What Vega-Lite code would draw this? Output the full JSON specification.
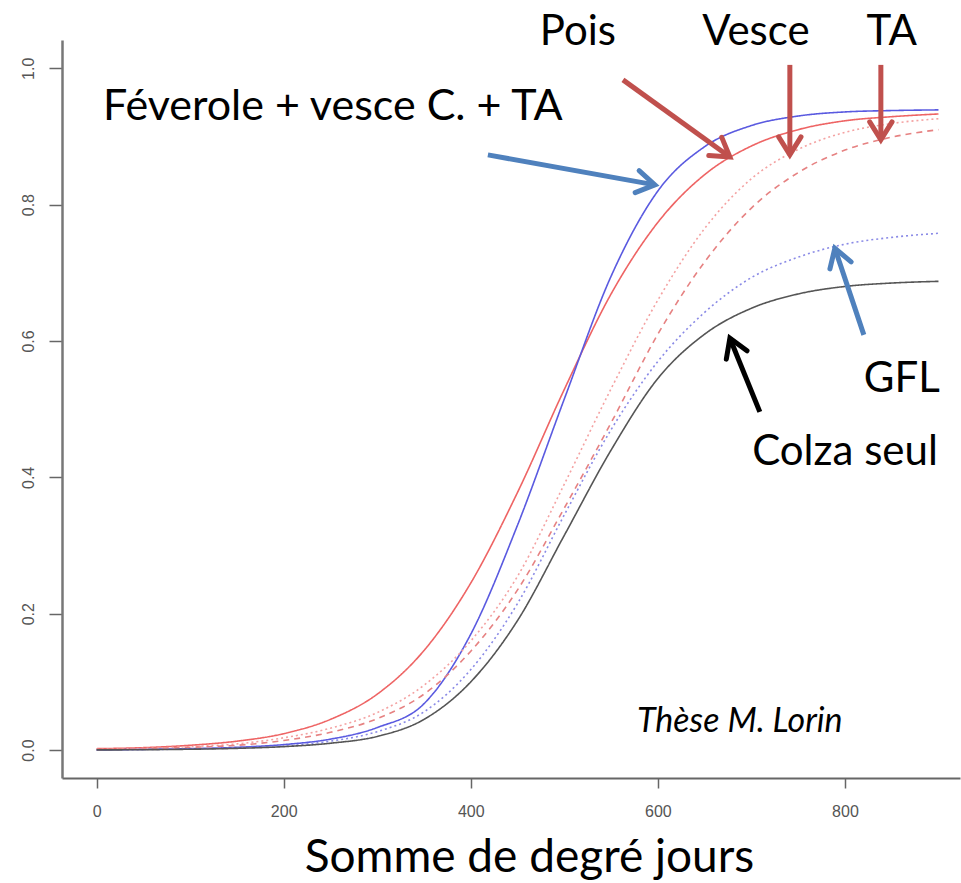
{
  "$schema": "https://vega.github.io/schema/vega-lite/v6.json",
  "width": 898,
  "height": 738,
  "autosize": {"type": "none"},
  "padding": {"left": 62, "top": 40, "right": 1, "bottom": 105},
  "background": "white",
  "config": {"view": {"stroke": null}, "axis": {"grid": false}},
  "datasets": {
    "curves": [
      {"serie": "Pois", "x": 0, "y": 0.002}, {"serie": "Pois", "x": 50, "y": 0.0035}, {"serie": "Pois", "x": 100, "y": 0.007}, {"serie": "Pois", "x": 150, "y": 0.013}, {"serie": "Pois", "x": 200, "y": 0.024}, {"serie": "Pois", "x": 250, "y": 0.045}, {"serie": "Pois", "x": 300, "y": 0.082}, {"serie": "Pois", "x": 350, "y": 0.146}, {"serie": "Pois", "x": 400, "y": 0.245}, {"serie": "Pois", "x": 450, "y": 0.378}, {"serie": "Pois", "x": 500, "y": 0.529}, {"serie": "Pois", "x": 550, "y": 0.669}, {"serie": "Pois", "x": 600, "y": 0.774}, {"serie": "Pois", "x": 650, "y": 0.844}, {"serie": "Pois", "x": 700, "y": 0.886}, {"serie": "Pois", "x": 750, "y": 0.910}, {"serie": "Pois", "x": 800, "y": 0.923}, {"serie": "Pois", "x": 850, "y": 0.929}, {"serie": "Pois", "x": 900, "y": 0.933},
      {"serie": "Féverole + vesce C. + TA", "x": 0, "y": 0.0}, {"serie": "Féverole + vesce C. + TA", "x": 50, "y": 0.001}, {"serie": "Féverole + vesce C. + TA", "x": 100, "y": 0.002}, {"serie": "Féverole + vesce C. + TA", "x": 150, "y": 0.004}, {"serie": "Féverole + vesce C. + TA", "x": 200, "y": 0.008}, {"serie": "Féverole + vesce C. + TA", "x": 250, "y": 0.016}, {"serie": "Féverole + vesce C. + TA", "x": 300, "y": 0.033}, {"serie": "Féverole + vesce C. + TA", "x": 350, "y": 0.068}, {"serie": "Féverole + vesce C. + TA", "x": 400, "y": 0.17}, {"serie": "Féverole + vesce C. + TA", "x": 450, "y": 0.33}, {"serie": "Féverole + vesce C. + TA", "x": 500, "y": 0.515}, {"serie": "Féverole + vesce C. + TA", "x": 550, "y": 0.695}, {"serie": "Féverole + vesce C. + TA", "x": 600, "y": 0.82}, {"serie": "Féverole + vesce C. + TA", "x": 650, "y": 0.885}, {"serie": "Féverole + vesce C. + TA", "x": 700, "y": 0.916}, {"serie": "Féverole + vesce C. + TA", "x": 750, "y": 0.930}, {"serie": "Féverole + vesce C. + TA", "x": 800, "y": 0.936}, {"serie": "Féverole + vesce C. + TA", "x": 850, "y": 0.938}, {"serie": "Féverole + vesce C. + TA", "x": 900, "y": 0.939},
      {"serie": "Vesce", "x": 0, "y": 0.001}, {"serie": "Vesce", "x": 50, "y": 0.0025}, {"serie": "Vesce", "x": 100, "y": 0.005}, {"serie": "Vesce", "x": 150, "y": 0.009}, {"serie": "Vesce", "x": 200, "y": 0.018}, {"serie": "Vesce", "x": 250, "y": 0.032}, {"serie": "Vesce", "x": 300, "y": 0.055}, {"serie": "Vesce", "x": 350, "y": 0.095}, {"serie": "Vesce", "x": 400, "y": 0.16}, {"serie": "Vesce", "x": 450, "y": 0.255}, {"serie": "Vesce", "x": 500, "y": 0.39}, {"serie": "Vesce", "x": 550, "y": 0.53}, {"serie": "Vesce", "x": 600, "y": 0.66}, {"serie": "Vesce", "x": 650, "y": 0.765}, {"serie": "Vesce", "x": 700, "y": 0.838}, {"serie": "Vesce", "x": 750, "y": 0.881}, {"serie": "Vesce", "x": 800, "y": 0.906}, {"serie": "Vesce", "x": 850, "y": 0.919}, {"serie": "Vesce", "x": 900, "y": 0.926},
      {"serie": "TA", "x": 0, "y": 0.0008}, {"serie": "TA", "x": 50, "y": 0.002}, {"serie": "TA", "x": 100, "y": 0.004}, {"serie": "TA", "x": 150, "y": 0.007}, {"serie": "TA", "x": 200, "y": 0.014}, {"serie": "TA", "x": 250, "y": 0.026}, {"serie": "TA", "x": 300, "y": 0.046}, {"serie": "TA", "x": 350, "y": 0.082}, {"serie": "TA", "x": 400, "y": 0.145}, {"serie": "TA", "x": 450, "y": 0.235}, {"serie": "TA", "x": 500, "y": 0.355}, {"serie": "TA", "x": 550, "y": 0.48}, {"serie": "TA", "x": 600, "y": 0.61}, {"serie": "TA", "x": 650, "y": 0.716}, {"serie": "TA", "x": 700, "y": 0.795}, {"serie": "TA", "x": 750, "y": 0.847}, {"serie": "TA", "x": 800, "y": 0.880}, {"serie": "TA", "x": 850, "y": 0.899}, {"serie": "TA", "x": 900, "y": 0.910},
      {"serie": "GFL", "x": 0, "y": 0.0003}, {"serie": "GFL", "x": 50, "y": 0.0007}, {"serie": "GFL", "x": 100, "y": 0.0015}, {"serie": "GFL", "x": 150, "y": 0.003}, {"serie": "GFL", "x": 200, "y": 0.006}, {"serie": "GFL", "x": 250, "y": 0.013}, {"serie": "GFL", "x": 300, "y": 0.027}, {"serie": "GFL", "x": 350, "y": 0.056}, {"serie": "GFL", "x": 400, "y": 0.118}, {"serie": "GFL", "x": 450, "y": 0.215}, {"serie": "GFL", "x": 500, "y": 0.345}, {"serie": "GFL", "x": 550, "y": 0.47}, {"serie": "GFL", "x": 600, "y": 0.57}, {"serie": "GFL", "x": 650, "y": 0.642}, {"serie": "GFL", "x": 700, "y": 0.693}, {"serie": "GFL", "x": 750, "y": 0.723}, {"serie": "GFL", "x": 800, "y": 0.742}, {"serie": "GFL", "x": 850, "y": 0.752}, {"serie": "GFL", "x": 900, "y": 0.758},
      {"serie": "Colza seul", "x": 0, "y": 0.0002}, {"serie": "Colza seul", "x": 50, "y": 0.0005}, {"serie": "Colza seul", "x": 100, "y": 0.0012}, {"serie": "Colza seul", "x": 150, "y": 0.0025}, {"serie": "Colza seul", "x": 200, "y": 0.005}, {"serie": "Colza seul", "x": 250, "y": 0.010}, {"serie": "Colza seul", "x": 300, "y": 0.020}, {"serie": "Colza seul", "x": 350, "y": 0.045}, {"serie": "Colza seul", "x": 400, "y": 0.10}, {"serie": "Colza seul", "x": 450, "y": 0.19}, {"serie": "Colza seul", "x": 500, "y": 0.315}, {"serie": "Colza seul", "x": 550, "y": 0.44}, {"serie": "Colza seul", "x": 600, "y": 0.545}, {"serie": "Colza seul", "x": 650, "y": 0.61}, {"serie": "Colza seul", "x": 700, "y": 0.648}, {"serie": "Colza seul", "x": 750, "y": 0.669}, {"serie": "Colza seul", "x": 800, "y": 0.680}, {"serie": "Colza seul", "x": 850, "y": 0.685}, {"serie": "Colza seul", "x": 900, "y": 0.6875}
    ],
    "arrows": [
      {"g": "rouge", "x": 562.7, "y": 0.983, "x2": 677.0, "y2": 0.870, "angle": 125.7},
      {"g": "rouge", "x": 741.1, "y": 1.005, "x2": 741.1, "y2": 0.873, "angle": 180},
      {"g": "rouge", "x": 838.4, "y": 1.005, "x2": 838.4, "y2": 0.895, "angle": 180},
      {"g": "bleu", "x": 418.3, "y": 0.873, "x2": 596.8, "y2": 0.829, "angle": 100.2},
      {"g": "bleu", "x": 820.2, "y": 0.609, "x2": 789.2, "y2": 0.736, "angle": -18.4},
      {"g": "noir", "x": 709.0, "y": 0.496, "x2": 677.0, "y2": 0.604, "angle": -22.1}
    ],
    "labels": [
      {"kind": "top", "label": "Pois", "x": 514.5, "y": 1.034},
      {"kind": "top", "label": "Vesce", "x": 704.8, "y": 1.034},
      {"kind": "top", "label": "TA", "x": 850.0, "y": 1.034},
      {"kind": "left", "label": "Féverole + vesce C. + TA", "x": 6.8, "y": 0.924},
      {"kind": "right", "label": "GFL", "x": 901.4, "y": 0.525},
      {"kind": "right", "label": "Colza seul", "x": 899.3, "y": 0.418},
      {"kind": "source", "label": "Thèse M. Lorin", "x": 687.6, "y": 0.0264}
    ]
  },
  "resolve": {"scale": {"color": "independent", "strokeDash": "independent"}},
  "layer": [
    {
      "data": {"name": "curves"},
      "mark": {"type": "line", "interpolate": "monotone", "strokeWidth": 1.6},
      "encoding": {
        "x": {
          "field": "x", "type": "quantitative",
          "scale": {"domain": [-37, 923], "nice": false, "zero": false},
          "axis": {
            "values": [0, 200, 400, 600, 800],
            "title": "Somme de degré jours",
            "titleFont": "Lato", "titleFontSize": 46, "titleFontWeight": "normal", "titleColor": "#000000",
            "titleX": 467, "titleY": 93, "titleAlign": "center", "titleBaseline": "alphabetic",
            "domainColor": "#666666", "domainWidth": 2,
            "tickColor": "#666666", "tickWidth": 1.5, "tickSize": 10,
            "labelFont": "Liberation Sans", "labelFontSize": 16, "labelColor": "#555555",
            "labelBaseline": "alphabetic", "labelPadding": 28
          }
        },
        "y": {
          "field": "y", "type": "quantitative",
          "scale": {"domain": [-0.041, 1.0415], "nice": false, "zero": false},
          "axis": {
            "values": [0, 0.2, 0.4, 0.6, 0.8, 1.0],
            "format": ".1f",
            "title": null,
            "domainColor": "#777777", "domainWidth": 2.5,
            "tickColor": "#666666", "tickWidth": 1.5, "tickSize": 13,
            "labelFont": "Liberation Sans", "labelFontSize": 16, "labelColor": "#555555",
            "labelAngle": -90, "labelAlign": "center", "labelBaseline": "alphabetic", "labelPadding": 16
          }
        },
        "color": {
          "field": "serie", "type": "nominal", "legend": null,
          "scale": {
            "domain": ["Féverole + vesce C. + TA", "Pois", "Vesce", "TA", "GFL", "Colza seul"],
            "range": ["#5a5ae0", "#ee6464", "#f4a2a2", "#e68282", "#8a8ae6", "#555555"]
          }
        },
        "strokeDash": {
          "field": "serie", "type": "nominal", "legend": null,
          "scale": {
            "domain": ["Féverole + vesce C. + TA", "Pois", "Vesce", "TA", "GFL", "Colza seul"],
            "range": [[1, 0], [1, 0], [2, 3], [6, 5], [2, 3], [1, 0]]
          }
        }
      }
    },
    {
      "data": {"name": "arrows"},
      "mark": {"type": "rule", "strokeWidth": 5, "strokeCap": "butt"},
      "encoding": {
        "x": {"field": "x", "type": "quantitative"},
        "y": {"field": "y", "type": "quantitative"},
        "x2": {"field": "x2"},
        "y2": {"field": "y2"},
        "color": {
          "field": "g", "type": "nominal", "legend": null,
          "scale": {"domain": ["rouge", "bleu", "noir"], "range": ["#C0504D", "#4F81BD", "#000000"]}
        }
      }
    },
    {
      "data": {"name": "arrows"},
      "mark": {"type": "point", "shape": "M-0.62,1L0,0L0.62,1", "filled": false, "size": 1296, "strokeWidth": 5, "strokeCap": "round", "strokeJoin": "miter", "opacity": 1},
      "encoding": {
        "x": {"field": "x2", "type": "quantitative"},
        "y": {"field": "y2", "type": "quantitative"},
        "angle": {"field": "angle", "type": "quantitative", "scale": null},
        "color": {
          "field": "g", "type": "nominal", "legend": null,
          "scale": {"domain": ["rouge", "bleu", "noir"], "range": ["#C0504D", "#4F81BD", "#000000"]}
        }
      }
    },
    {
      "data": {"name": "labels"},
      "transform": [{"filter": "datum.kind === 'top'"}],
      "mark": {"type": "text", "font": "Lato", "fontSize": 42, "align": "center", "baseline": "alphabetic", "color": "#000000"},
      "encoding": {
        "x": {"field": "x", "type": "quantitative"},
        "y": {"field": "y", "type": "quantitative"},
        "text": {"field": "label"}
      }
    },
    {
      "data": {"name": "labels"},
      "transform": [{"filter": "datum.kind === 'left'"}],
      "mark": {"type": "text", "font": "Lato", "fontSize": 43, "align": "left", "baseline": "alphabetic", "color": "#000000"},
      "encoding": {
        "x": {"field": "x", "type": "quantitative"},
        "y": {"field": "y", "type": "quantitative"},
        "text": {"field": "label"}
      }
    },
    {
      "data": {"name": "labels"},
      "transform": [{"filter": "datum.kind === 'right'"}],
      "mark": {"type": "text", "font": "Lato", "fontSize": 42, "align": "right", "baseline": "alphabetic", "color": "#000000"},
      "encoding": {
        "x": {"field": "x", "type": "quantitative"},
        "y": {"field": "y", "type": "quantitative"},
        "text": {"field": "label"}
      }
    },
    {
      "data": {"name": "labels"},
      "transform": [{"filter": "datum.kind === 'source'"}],
      "mark": {"type": "text", "font": "Lato", "fontSize": 34, "fontStyle": "italic", "align": "center", "baseline": "alphabetic", "color": "#000000"},
      "encoding": {
        "x": {"field": "x", "type": "quantitative"},
        "y": {"field": "y", "type": "quantitative"},
        "text": {"field": "label"}
      }
    }
  ]
}
